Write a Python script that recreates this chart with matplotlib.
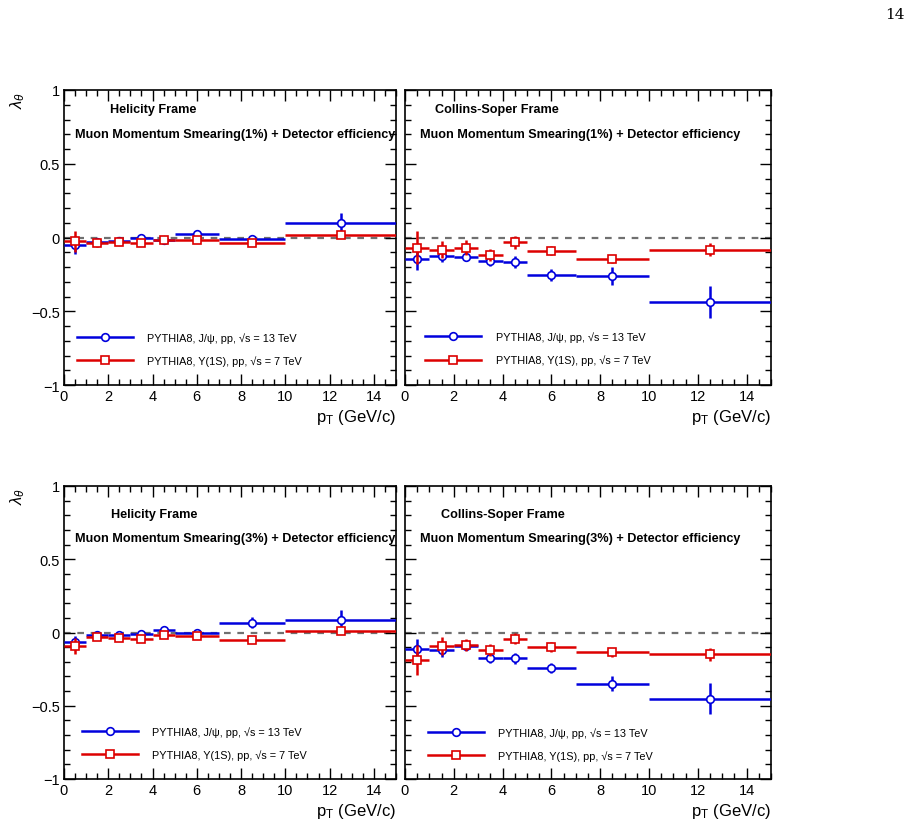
import matplotlib
matplotlib.use("Agg")
import matplotlib.pyplot as plt
from matplotlib.lines import Line2D
from matplotlib.ticker import MultipleLocator, FuncFormatter
import numpy as np

plt.rcParams['font.family'] = ['Liberation Sans', 'DejaVu Sans']
plt.rcParams['mathtext.fontset'] = 'custom'
plt.rcParams['mathtext.rm'] = 'Liberation Sans'
plt.rcParams['mathtext.it'] = 'Liberation Sans:italic'
plt.rcParams['mathtext.bf'] = 'Liberation Sans:bold'

# pT bins (GeV/c)
pt_center = np.array([0.5, 1.5, 2.5, 3.5, 4.5, 6.0, 8.5, 12.5])
pt_lo = np.array([0, 1, 2, 3, 4, 5, 7, 10])
pt_hi = np.array([1, 2, 3, 4, 5, 7, 10, 15])

# lambda_theta, 1% smearing, helicity frame
hx1_jpsi = [-0.05, -0.03, -0.025, 0.0, -0.015, 0.025, -0.012, 0.095]
hx1_jpsi_err = [0.06, 0.02, 0.015, 0.015, 0.015, 0.015, 0.03, 0.07]
hx1_ups = [-0.025, -0.04, -0.03, -0.04, -0.02, -0.02, -0.035, 0.02]
hx1_ups_err = [0.07, 0.025, 0.015, 0.02, 0.02, 0.01, 0.015, 0.02]

# lambda_theta, 1% smearing, Collins-Soper frame
cs1_jpsi = [-0.146, -0.123, -0.13, -0.16, -0.164, -0.252, -0.262, -0.44]
cs1_jpsi_err = [0.074, 0.045, 0.03, 0.03, 0.04, 0.04, 0.06, 0.108]
cs1_ups = [-0.068, -0.082, -0.068, -0.116, -0.032, -0.089, -0.146, -0.082]
cs1_ups_err = [0.11, 0.06, 0.05, 0.04, 0.045, 0.03, 0.03, 0.045]

# lambda_theta, 3% smearing, helicity frame
hx3_jpsi = [-0.064, -0.014, -0.02, -0.01, 0.016, -0.002, 0.068, 0.085]
hx3_jpsi_err = [0.04, 0.02, 0.015, 0.02, 0.02, 0.015, 0.04, 0.07]
hx3_ups = [-0.09, -0.032, -0.036, -0.042, -0.02, -0.022, -0.052, 0.007]
hx3_ups_err = [0.055, 0.02, 0.015, 0.02, 0.015, 0.01, 0.01, 0.02]

# lambda_theta, 3% smearing, Collins-Soper frame
cs3_jpsi = [-0.114, -0.12, -0.09, -0.177, -0.177, -0.241, -0.35, -0.452]
cs3_jpsi_err = [0.068, 0.05, 0.03, 0.03, 0.035, 0.035, 0.05, 0.105]
cs3_ups = [-0.187, -0.091, -0.086, -0.118, -0.041, -0.098, -0.134, -0.148]
cs3_ups_err = [0.105, 0.06, 0.04, 0.04, 0.04, 0.035, 0.03, 0.045]

frames = ['Helicity Frame', 'Collins-Soper Frame']
smearing = ['1%', '3%']
label_jpsi = 'PYTHIA8, J/\u03c8, pp, \u221as = 13 TeV'
label_ups = 'PYTHIA8, \u03a5(1S), pp, \u221as = 7 TeV'

blue = '#0000dd'
red = '#dd0000'

W, H = 912, 829
fig = plt.figure(figsize=(W / 100, H / 100), dpi=100)

# panel boxes in pixels: (left, top, right, bottom)
boxes = [(64, 91, 396, 386), (405, 91, 771, 386),
         (64, 487, 396, 780), (405, 487, 771, 780)]
datasets = [(hx1_jpsi, hx1_jpsi_err, hx1_ups, hx1_ups_err),
            (cs1_jpsi, cs1_jpsi_err, cs1_ups, cs1_ups_err),
            (hx3_jpsi, hx3_jpsi_err, hx3_ups, hx3_ups_err),
            (cs3_jpsi, cs3_jpsi_err, cs3_ups, cs3_ups_err)]
# text positions (axes fraction)
frame_pos = [(0.139, 0.935), (0.082, 0.935), (0.142, 0.904), (0.098, 0.904)]
muon_pos = [(0.033, 0.851), (0.041, 0.851), (0.033, 0.822), (0.041, 0.822)]
leg_pos = [(0.039, 0.122), (0.055, 0.124), (0.054, 0.123), (0.063, 0.119)]

xerr = [pt_center - pt_lo, pt_hi - pt_center]
fmt_y = FuncFormatter(lambda v, p: ('%g' % v).replace('-', '\u2212'))

for i, (box, data) in enumerate(zip(boxes, datasets)):
    l, t, r, b = box
    ax = fig.add_axes([l / W, 1 - b / H, (r - l) / W, (b - t) / H])
    ax.set_xlim(0, 15)
    ax.set_ylim(-1, 1)
    ax.axhline(0, color='#707070', lw=1.6, ls=(0, (3, 3)), zorder=1)
    jp, jpe, up, upe = data
    ax.errorbar(pt_center, jp, xerr=xerr, yerr=jpe, fmt='o', color=blue,
                mfc='white', mec=blue, mew=1.2, ms=5.5, lw=1.8, capsize=0, zorder=3)
    ax.errorbar(pt_center, up, xerr=xerr, yerr=upe, fmt='s', color=red,
                mfc='white', mec=red, mew=1.2, ms=5.5, lw=1.8, capsize=0, zorder=4)

    ax.xaxis.set_major_locator(MultipleLocator(2))
    ax.xaxis.set_minor_locator(MultipleLocator(0.5))
    ax.yaxis.set_major_locator(MultipleLocator(0.5))
    ax.yaxis.set_minor_locator(MultipleLocator(0.1))
    ax.tick_params(which='both', direction='in', top=True, right=True,
                   labelsize=10.5, width=1, pad=3, colors='black')
    ax.tick_params(which='major', length=8)
    ax.tick_params(which='minor', length=4)
    ax.yaxis.set_major_formatter(fmt_y)
    if i % 2 == 1:
        ax.tick_params(labelleft=False)
    for s in ax.spines.values():
        s.set_linewidth(1.2)

    ax.set_xlabel(r'p$_{\rm T}$ (GeV/c)', loc='right', fontsize=12, labelpad=3)

    ax.text(*frame_pos[i], frames[i % 2], transform=ax.transAxes,
            fontsize=9.1, fontweight='bold', va='center', ha='left')
    ax.text(*muon_pos[i], 'Muon Momentum Smearing(%s) + Detector efficiency' % smearing[i // 2],
            transform=ax.transAxes, fontsize=9.05, fontweight='bold',
            va='center', ha='left')

    handles = [Line2D([], [], color=blue, lw=1.8, marker='o', mfc='white',
                      mec=blue, ms=5.5, mew=1.2),
               Line2D([], [], color=red, lw=1.8, marker='s', mfc='white',
                      mec=red, ms=5.5, mew=1.2)]
    ax.legend(handles, [label_jpsi, label_ups], loc='center left',
              bbox_to_anchor=leg_pos[i], frameon=False, fontsize=7.8,
              handlelength=5.2, handletextpad=1.3, labelspacing=1.15,
              borderpad=0, borderaxespad=0)

    if i % 2 == 0:
        fig.text(18 / W, 1 - (t + 9) / H, r'$\lambda_{\theta}$', rotation=90,
                 ha='center', va='center', fontsize=12)

fig.text(895 / W, 1 - 15 / H, '14', fontsize=11, family='DejaVu Serif',
         ha='center', va='center')

fig.savefig('out.png', dpi=100)
